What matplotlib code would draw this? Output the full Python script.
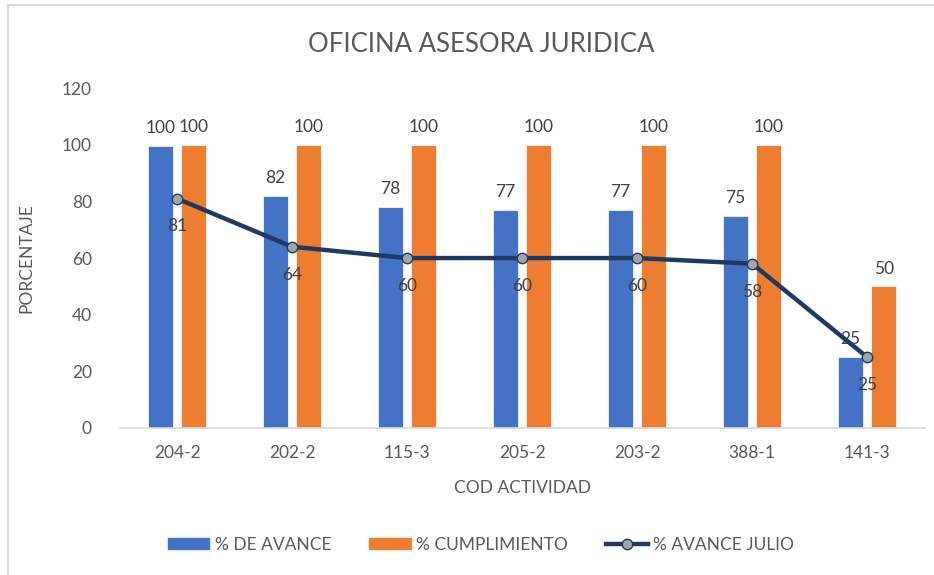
import numpy as np
import matplotlib.pyplot as plt
from matplotlib.patches import Rectangle
from matplotlib.lines import Line2D

plt.rcParams['font.family'] = ['Lato', 'DejaVu Sans']

categorias = ["204-2", "202-2", "115-3", "205-2", "203-2", "388-1", "141-3"]
avance = [99.6, 82, 78, 77, 77, 75, 25]
cumplimiento = [100, 100, 100, 100, 100, 100, 50]
avance_julio = [81, 64, 60, 60, 60, 58, 25]

azul = "#4472C4"
naranja = "#ED7D31"
navy = "#203864"
gris_txt = "#595959"
fs = 12.5

fig = plt.figure(figsize=(9.34, 5.75), dpi=100)
ax = fig.add_axes([0.128, 0.2557, 0.862, 0.591])

x = np.arange(len(categorias))
w = 0.22
off = 0.145
ax.bar(x - off, avance, w, color=azul, edgecolor="white", linewidth=0.5)
ax.bar(x + off, cumplimiento, w, color=naranja, edgecolor="white", linewidth=0.5)
ax.plot(x, avance_julio, color=navy, lw=3.2, marker="o", ms=7.5,
        mfc="#A5A5A5", mec=navy, mew=1.0, zorder=5)

for xi, v in zip(x - off, avance):
    ax.annotate("%.0f" % v, (xi, v), xytext=(0, 7), textcoords="offset points",
                ha="center", va="bottom", fontsize=fs, color="#404040")
for xi, v in zip(x + off, cumplimiento):
    ax.annotate("%.0f" % v, (xi, v), xytext=(0, 7), textcoords="offset points",
                ha="center", va="bottom", fontsize=fs, color="#404040")
for xi, v in zip(x, avance_julio):
    ax.annotate("%.0f" % v, (xi, v), xytext=(0, -20), textcoords="offset points",
                ha="center", va="center", fontsize=fs, color="#404040", zorder=6)

ax.set_xlim(-0.5, len(categorias) - 0.5)
ax.set_ylim(0, 120)
ax.set_yticks(range(0, 121, 20))
ax.set_xticks(x)
ax.set_xticklabels(categorias)
ax.tick_params(length=0, labelsize=fs, labelcolor=gris_txt)
ax.tick_params(axis="x", pad=12)
ax.tick_params(axis="y", pad=20)
for s in ["top", "right", "left"]:
    ax.spines[s].set_visible(False)
ax.spines["bottom"].set_color("#D9D9D9")
ax.spines["bottom"].set_linewidth(1.2)

ax.set_xlabel("COD ACTIVIDAD", fontsize=fs, color=gris_txt, labelpad=14)
ax.set_ylabel("PORCENTAJE", fontsize=fs, color=gris_txt, labelpad=20)

fig.text(0.515, 0.922, "OFICINA ASESORA JURIDICA", ha="center", va="center",
         fontsize=18.5, color=gris_txt)

handles = [Rectangle((0, 0), 1, 1, color=azul),
           Rectangle((0, 0), 1, 1, color=naranja),
           Line2D([], [], color=navy, lw=3.2, marker="o", ms=7.5, mfc="#A5A5A5", mec=navy)]
fig.legend(handles, ["% DE AVANCE", "% CUMPLIMIENTO", "% AVANCE JULIO"],
           loc="center", bbox_to_anchor=(0.515, 0.052), ncol=3, frameon=False,
           fontsize=fs, labelcolor=gris_txt, handlelength=2.4, handleheight=0.6,
           handletextpad=0.3, columnspacing=2.2)

fig.patches.append(Rectangle((8 / 934, -0.01), 1.0, 1 - 5 / 575 + 0.01,
                             transform=fig.transFigure, fill=False,
                             edgecolor="#D9D9D9", linewidth=1.5))

fig.savefig("out.png", dpi=100)
